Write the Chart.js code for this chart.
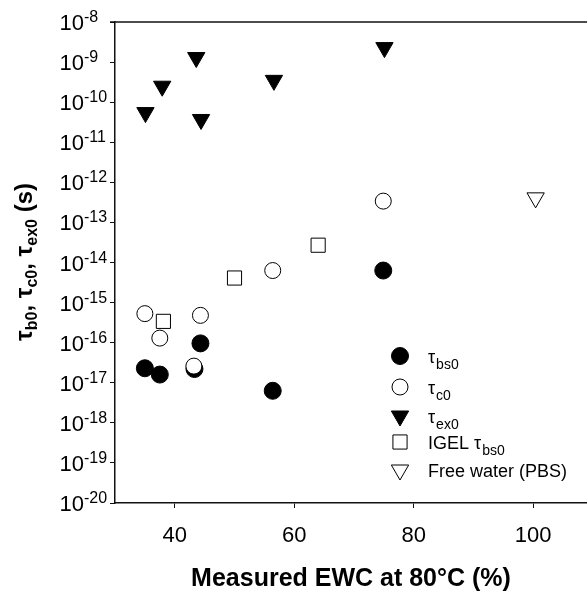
<!DOCTYPE html>
<html>
<head>
<meta charset="utf-8">
<script src="https://cdn.jsdelivr.net/npm/chart.js@4.4.0/dist/chart.umd.min.js"></script>
<style>
  body { margin: 0; background: #fff; }
  #wrap { width: 587px; height: 594px; }
</style>
</head>
<body>
<div id="wrap"><canvas id="ewc-chart"></canvas></div>
<script>
// measured EWC (%) and fitted correlation times (s)
const ewcBs = [35.0, 37.5, 43.3, 44.3, 56.4, 74.9];
const tauBs = [2.3e-17, 1.6e-17, 2.2e-17, 9.6e-17, 6.3e-18, 6.3e-15];
const ewcC = [35.0, 37.5, 43.2, 44.3, 56.4, 74.9];
const tauC = [5.3e-16, 1.3e-16, 2.6e-17, 4.8e-16, 6.3e-15, 3.4e-13];
const ewcEx = [35.1, 37.9, 43.6, 44.4, 56.6, 75.1];
const tauEx = [5.5e-11, 2.5e-10, 1.3e-9, 3.7e-11, 3.5e-10, 2.3e-9];
const ewcIgel = [38.1, 50.0, 64.0];
const tauIgel = [3.4e-16, 4.1e-15, 2.7e-14];
const ewcWater = [100.4];
const tauWater = [4.1e-13];

const xTicks = [40, 60, 80, 100];
const yTickExps = [-20, -19, -18, -17, -16, -15, -14, -13, -12, -11, -10, -9, -8];

// legend text: [main, subscript]
const legendLabels = [
    ["\u03c4", "bs0"],
    ["\u03c4", "c0"],
    ["\u03c4", "ex0"],
    ["IGEL \u03c4", "bs0"],
    ["Free water (PBS)", ""]
];

const FONT = "'Liberation Sans', Arial, Helvetica, sans-serif";

const toPoints = (xs, ys) => xs.map((x, i) => ({ x: x, y: ys[i] }));

const ewcCanvas = document.getElementById("ewc-chart");

// y tick labels as 10 with superscript exponent
const powerLabels = {
    id: "powerLabels",
    afterDraw(chart) {
        const ctx = chart.ctx;
        const scale = chart.scales.y;
        ctx.save();
        ctx.fillStyle = "#000";
        scale.ticks.forEach((t) => {
            const py = scale.getPixelForValue(t.value);
            const exp = Math.round(Math.log10(t.value));
            ctx.font = "22px " + FONT;
            ctx.textAlign = "right";
            ctx.textBaseline = "alphabetic";
            ctx.fillText("10", 84, py + 8);
            ctx.font = "16px " + FONT;
            ctx.textAlign = "left";
            ctx.fillText(String(exp), 84, py);
        });
        ctx.restore();
    }
};

// rotated y title with subscripts, top frame line, legend
const extras = {
    id: "extras",
    afterDraw(chart) {
        const ctx = chart.ctx;
        const area = chart.chartArea;
        ctx.save();

        // top frame line
        ctx.strokeStyle = "#111";
        ctx.lineWidth = 1.5;
        ctx.beginPath();
        ctx.moveTo(area.left - 5, area.top);
        ctx.lineTo(area.right, area.top);
        ctx.stroke();

        // y title
        const parts = [
            ["\u03c4", 0], ["b0", 1], [", ", 0],
            ["\u03c4", 0], ["c0", 1], [", ", 0],
            ["\u03c4", 0], ["ex0", 1], [" (s)", 0]
        ];
        const big = "bold 24px " + FONT;
        const small = "bold 16px " + FONT;
        let total = 0;
        parts.forEach((p) => {
            ctx.font = p[1] ? small : big;
            total += ctx.measureText(p[0]).width;
        });
        ctx.translate(32, 262);
        ctx.rotate(-Math.PI / 2);
        ctx.fillStyle = "#000";
        ctx.textAlign = "left";
        ctx.textBaseline = "alphabetic";
        let cx = -total / 2;
        parts.forEach((p) => {
            ctx.font = p[1] ? small : big;
            ctx.fillText(p[0], cx, p[1] ? 5 : 0);
            cx += ctx.measureText(p[0]).width;
        });
        ctx.setTransform(1, 0, 0, 1, 0, 0);

        // legend
        const rowsY = [356, 387, 416, 442, 470];
        chart.data.datasets.forEach((ds, i) => {
            const y = rowsY[i];
            ctx.fillStyle = ds.backgroundColor;
            ctx.strokeStyle = ds.borderColor;
            ctx.lineWidth = ds.borderWidth;
            Chart.helpers.drawPoint(ctx, {
                pointStyle: ds.pointStyle,
                radius: ds.pointRadius,
                rotation: ds.pointRotation || 0,
                borderWidth: ds.borderWidth
            }, 400, y);

            const label = legendLabels[i];
            ctx.fillStyle = "#000";
            ctx.font = "18px " + FONT;
            ctx.fillText(label[0], 428, y + 7);
            const w = ctx.measureText(label[0]).width;
            if (label[1]) {
                ctx.font = "14px " + FONT;
                ctx.fillText(label[1], 428 + w + 1, y + 13);
            }
        });
        ctx.restore();
    }
};

const ewcChart = new Chart(ewcCanvas, {
    type: "scatter",
    data: {
        datasets: [
            {
                label: "tau_bs0",
                data: toPoints(ewcBs, tauBs),
                pointStyle: "circle",
                pointRadius: 8.5,
                backgroundColor: "#000",
                borderColor: "#000",
                borderWidth: 1,
                order: 1,
            },
            {
                label: "tau_c0",
                data: toPoints(ewcC, tauC),
                pointStyle: "circle",
                pointRadius: 8,
                backgroundColor: "#fff",
                borderColor: "#000",
                borderWidth: 1,
            },
            {
                label: "tau_ex0",
                data: toPoints(ewcEx, tauEx),
                pointStyle: "triangle",
                pointRotation: 180,
                pointRadius: 10,
                backgroundColor: "#000",
                borderColor: "#000",
                borderWidth: 1,
            },
            {
                label: "IGEL tau_bs0",
                data: toPoints(ewcIgel, tauIgel),
                pointStyle: "rect",
                pointRadius: 10,
                backgroundColor: "#fff",
                borderColor: "#000",
                borderWidth: 1,
            },
            {
                label: "Free water (PBS)",
                data: toPoints(ewcWater, tauWater),
                pointStyle: "triangle",
                pointRotation: 180,
                pointRadius: 10,
                backgroundColor: "#fff",
                borderColor: "#000",
                borderWidth: 1,
            },
        ],
    },
    options: {
        responsive: true,
        maintainAspectRatio: false,
        animation: false,
        layout: {
            autoPadding: false,
            padding: { top: 22, left: 0, right: 0, bottom: 0 }
        },
        plugins: {
            legend: { display: false },
            tooltip: { enabled: false }
        },
        scales: {
            x: {
                type: "linear",
                min: 30,
                max: 109,
                afterBuildTicks: (scale) => {
                    scale.ticks = xTicks.map((v) => ({ value: v }));
                },
                afterFit: (scale) => { scale.height = 91; },
                border: { display: true, color: "#111", width: 1.5 },
                grid: {
                    drawOnChartArea: false,
                    drawTicks: true,
                    tickLength: 5,
                    color: "#111",
                },
                ticks: {
                    color: "#000",
                    font: { family: FONT, size: 22 },
                    padding: 15,
                    maxRotation: 0,
                },
                title: {
                    display: true,
                    text: "Measured EWC at 80\u00b0C (%)",
                    color: "#000",
                    font: { family: FONT, size: 25, weight: "bold" },
                    padding: { top: 0, bottom: 0 },
                },
            },
            y: {
                type: "logarithmic",
                min: 1e-20,
                max: 1e-8,
                afterBuildTicks: (scale) => {
                    scale.ticks = yTickExps.map((e) => ({ value: Math.pow(10, e) }));
                },
                afterFit: (scale) => { scale.width = 115; },
                border: { display: true, color: "#111", width: 1.5 },
                grid: {
                    drawOnChartArea: false,
                    drawTicks: true,
                    tickLength: 5,
                    color: "#111",
                },
                ticks: { display: false },
            },
        },
    },
    plugins: [powerLabels, extras],
});
</script>
</body>
</html>
